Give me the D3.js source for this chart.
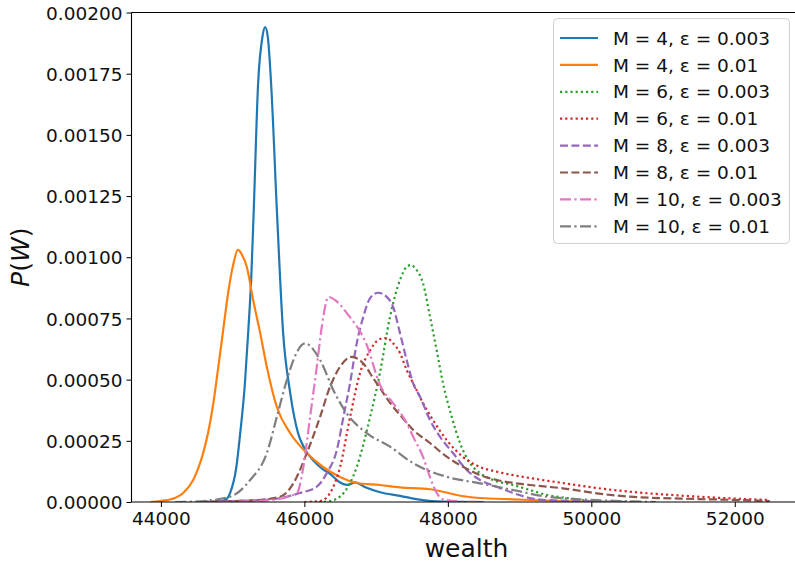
<!DOCTYPE html>
<html>
<head>
<meta charset="utf-8">
<script src="https://cdn.jsdelivr.net/npm/d3@7"></script>
<style>
  html, body { margin: 0; padding: 0; background: #fff; }
  svg { display: block; font-family: "DejaVu Sans", sans-serif; }
</style>
</head>
<body>
<svg id="chart" width="795" height="566"></svg>
<script>
// Wealth distributions P(W): [wealth, density] samples for each (M, ε) run
const m4_e003 = [[44600,0],[44800,0.000003],[44896,0.000008],[44965,0.000037],[45050,0.00014],[45105,0.00028],[45170,0.00048],[45216,0.00069],[45260,0.00092],[45295,0.00120],[45355,0.00171],[45415,0.00190],[45453,0.00194],[45490,0.00190],[45536,0.00171],[45620,0.00117],[45704,0.00069],[45800,0.00045],[45913,0.00028],[46000,0.00022],[46122,0.00017],[46250,0.000135],[46358,0.000115],[46498,0.00008],[46600,0.00007],[46707,0.00008],[46850,0.00006],[47055,0.00004],[47333,0.000025],[47500,0.000015],[47654,0.000008],[48030,0.000001],[48500,0]];
const m4_e01 = [[43850,0],[43990,0.000004],[44150,0.000012],[44311,0.000037],[44450,0.00009],[44589,0.0002],[44660,0.000286],[44729,0.0004],[44798,0.000547],[44868,0.000702],[44937,0.000854],[45007,0.000968],[45073,0.00103],[45130,0.00101],[45198,0.00096],[45286,0.000825],[45384,0.00069],[45477,0.000551],[45616,0.000388],[45801,0.000282],[46034,0.0002],[46261,0.000143],[46498,0.000102],[46730,0.0000776],[47055,0.0000694],[47333,0.00006],[47751,0.000052],[47932,0.000042],[48123,0.0000286],[48448,0.0000163],[48908,0.000011],[49562,0.000004],[50200,0]];
const m6_e003 = [[46200,0],[46358,0.000004],[46543,0.0000355],[46730,0.000143],[46916,0.000347],[47055,0.00053],[47194,0.000757],[47333,0.000907],[47426,0.000961],[47485,0.000968],[47560,0.00095],[47654,0.000894],[47751,0.000757],[47844,0.00062],[47932,0.000486],[48054,0.000348],[48169,0.000241],[48309,0.000159],[48448,0.000118],[48629,0.00009],[48908,0.0000694],[49145,0.000049],[49382,0.0000286],[49660,0.0000163],[49980,0.000004],[50300,0]];
const m6_e01 = [[46000,0],[46220,0.000004],[46358,0.0000368],[46498,0.000143],[46637,0.000347],[46776,0.000527],[46916,0.00062],[47055,0.000666],[47148,0.00067],[47236,0.000649],[47333,0.000609],[47426,0.000539],[47515,0.000486],[47654,0.000404],[47793,0.000335],[47984,0.000253],[48211,0.000184],[48448,0.000143],[48681,0.000124],[49144,0.000098],[49604,0.0000776],[50077,0.0000572],[50537,0.000042],[51233,0.0000265],[52000,0.000014],[52488,0.000008]];
const m8_e003 = [[44600,0],[45000,0.000004],[45500,0.00001],[45940,0.0000368],[46173,0.0000625],[46312,0.000118],[46452,0.000212],[46544,0.000347],[46637,0.000486],[46730,0.000649],[46822,0.000757],[46916,0.000833],[47027,0.000855],[47148,0.000838],[47236,0.000798],[47333,0.00069],[47426,0.00058],[47515,0.000486],[47612,0.00043],[47751,0.000335],[47890,0.000267],[48072,0.0002],[48263,0.000131],[48448,0.00009],[48681,0.0000625],[48908,0.0000368],[49145,0.0000163],[49377,0.000008],[50120,0.000002],[50600,0]];
const m8_e01 = [[44547,0.000001],[45244,0.000006],[45662,0.0000216],[45847,0.0000764],[46034,0.0002],[46219,0.000348],[46358,0.000471],[46498,0.000553],[46661,0.000593],[46822,0.000566],[46962,0.000505],[47055,0.000465],[47194,0.000405],[47350,0.00035],[47518,0.000294],[47751,0.000241],[47984,0.000185],[48211,0.000144],[48448,0.00011],[48681,0.00009],[49144,0.0000694],[49604,0.000056],[50077,0.0000355],[50537,0.0000216],[51233,0.000014],[52069,0.000008],[52488,0.000004]];
const m10_e003 = [[44800,0],[45105,0.000002],[45523,0.000008],[45894,0.0000355],[45986,0.000144],[46080,0.000348],[46173,0.000553],[46243,0.000716],[46335,0.000838],[46429,0.000825],[46591,0.000772],[46870,0.000641],[47055,0.000478],[47236,0.000404],[47426,0.000323],[47519,0.000265],[47654,0.000184],[47751,0.000102],[47845,0.0000368],[47932,0.000011],[48169,0.000002],[48500,0]];
const m10_e01 = [[44200,0],[44480,0.000002],[44965,0.0000216],[45244,0.00009],[45477,0.0002],[45616,0.000348],[45755,0.000498],[45847,0.00058],[46010,0.000648],[46219,0.00058],[46404,0.000457],[46591,0.000362],[46870,0.000281],[47194,0.000226],[47519,0.000158],[47984,0.000103],[48448,0.0000764],[48908,0.000049],[49377,0.0000216],[49841,0.000011],[50398,0.000004],[50900,0]];

const seriesData = [m4_e003, m4_e01, m6_e003, m6_e01, m8_e003, m8_e01, m10_e003, m10_e01];
const seriesLabels = ["M = 4, ε = 0.003", "M = 4, ε = 0.01", "M = 6, ε = 0.003", "M = 6, ε = 0.01",
                      "M = 8, ε = 0.003", "M = 8, ε = 0.01", "M = 10, ε = 0.003", "M = 10, ε = 0.01"];
const seriesColors = ["#1f77b4", "#ff7f0e", "#2ca02c", "#d62728", "#9467bd", "#8c564b", "#e377c2", "#7f7f7f"];
const seriesDash = ["none", "none", "2.2,3", "2.2,3", "8,3.4", "8,3.4", "11,3.4,2.2,3.4", "11,3.4,2.2,3.4"];

const xTicks = [44000, 46000, 48000, 50000, 52000];
const yTicks = [0, 0.00025, 0.0005, 0.00075, 0.001, 0.00125, 0.0015, 0.00175, 0.002];

const svg = d3.select("#chart");
const plot = { left: 131.5, right: 801.5, top: 12.5, bottom: 502 };

const x = d3.scaleLinear().domain([43590, 52930]).range([plot.left, plot.right]);
const y = d3.scaleLinear().domain([0, 0.002]).range([plot.bottom, plot.top]);

svg.append("defs").append("clipPath").attr("id", "plotClip")
  .append("rect")
  .attr("x", plot.left).attr("y", plot.top)
  .attr("width", plot.right - plot.left).attr("height", plot.bottom - plot.top);

const line = d3.line()
  .x(d => x(d[0]))
  .y(d => y(d[1]))
  .curve(d3.curveMonotoneX);

const lines = svg.append("g").attr("clip-path", "url(#plotClip)");
seriesData.forEach((data, i) => {
  lines.append("path")
    .datum(data)
    .attr("d", line)
    .attr("fill", "none")
    .attr("stroke", seriesColors[i])
    .attr("stroke-width", 2.2)
    .attr("stroke-dasharray", seriesDash[i])
    .attr("stroke-linejoin", "round");
});

// axes
const fmtY = d3.format(".5f");
const xAxis = d3.axisBottom(x).tickValues(xTicks).tickFormat(d3.format("d")).tickSize(5).tickPadding(4);
const yAxis = d3.axisLeft(y).tickValues(yTicks).tickFormat(fmtY).tickSize(5).tickPadding(4);

const gx = svg.append("g").attr("transform", `translate(0,${plot.bottom})`).call(xAxis);
const gy = svg.append("g").attr("transform", `translate(${plot.left},0)`).call(yAxis);

[gx, gy].forEach(g => {
  g.select(".domain").remove();
  g.selectAll(".tick line").attr("stroke", "#000").attr("stroke-width", 1);
  g.selectAll(".tick text")
    .attr("fill", "#111")
    .style("font-family", "'DejaVu Sans', sans-serif")
    .style("font-size", "18.5px");
});
gx.selectAll(".tick text").attr("dy", null).attr("y", 23);
gy.selectAll(".tick text").attr("dy", "0.36em");

// spines (right spine falls outside the visible window)
const spines = svg.append("g").attr("stroke", "#000").attr("stroke-width", 1.1).attr("fill", "none");
spines.append("line").attr("x1", plot.left).attr("x2", plot.left).attr("y1", plot.top).attr("y2", plot.bottom);
spines.append("line").attr("x1", plot.left).attr("x2", plot.right).attr("y1", plot.bottom).attr("y2", plot.bottom);
spines.append("line").attr("x1", plot.left).attr("x2", plot.right).attr("y1", plot.top).attr("y2", plot.top);
spines.append("line").attr("x1", plot.right).attr("x2", plot.right).attr("y1", plot.top).attr("y2", plot.bottom);

// axis titles
svg.append("text")
  .attr("x", (plot.left + plot.right) / 2).attr("y", 557)
  .attr("text-anchor", "middle")
  .attr("fill", "#111")
  .style("font-size", "25px")
  .text("wealth");

const yTitle = svg.append("text")
  .attr("transform", `translate(29,${(plot.top + plot.bottom) / 2}) rotate(-90)`)
  .attr("text-anchor", "middle")
  .attr("fill", "#111")
  .style("font-size", "25px");
yTitle.append("tspan").style("font-style", "italic").text("P");
yTitle.append("tspan").text("(");
yTitle.append("tspan").style("font-style", "italic").text("W");
yTitle.append("tspan").text(")");

// legend
const legend = svg.append("g");
legend.append("rect")
  .attr("x", 553.5).attr("y", 18.5)
  .attr("width", 236).attr("height", 225)
  .attr("rx", 4).attr("ry", 4)
  .attr("fill", "#fff").attr("fill-opacity", 0.8)
  .attr("stroke", "#d0d0d0").attr("stroke-width", 1);

seriesLabels.forEach((label, i) => {
  const cy = 38 + i * 26.9;
  legend.append("line")
    .attr("x1", 560).attr("x2", 598)
    .attr("y1", cy).attr("y2", cy)
    .attr("stroke", seriesColors[i])
    .attr("stroke-width", 2.2)
    .attr("stroke-dasharray", seriesDash[i]);
  legend.append("text")
    .attr("x", 613).attr("y", cy)
    .attr("dy", "0.36em")
    .attr("fill", "#111")
    .style("font-size", "18.5px")
    .text(label);
});
</script>
</body>
</html>
